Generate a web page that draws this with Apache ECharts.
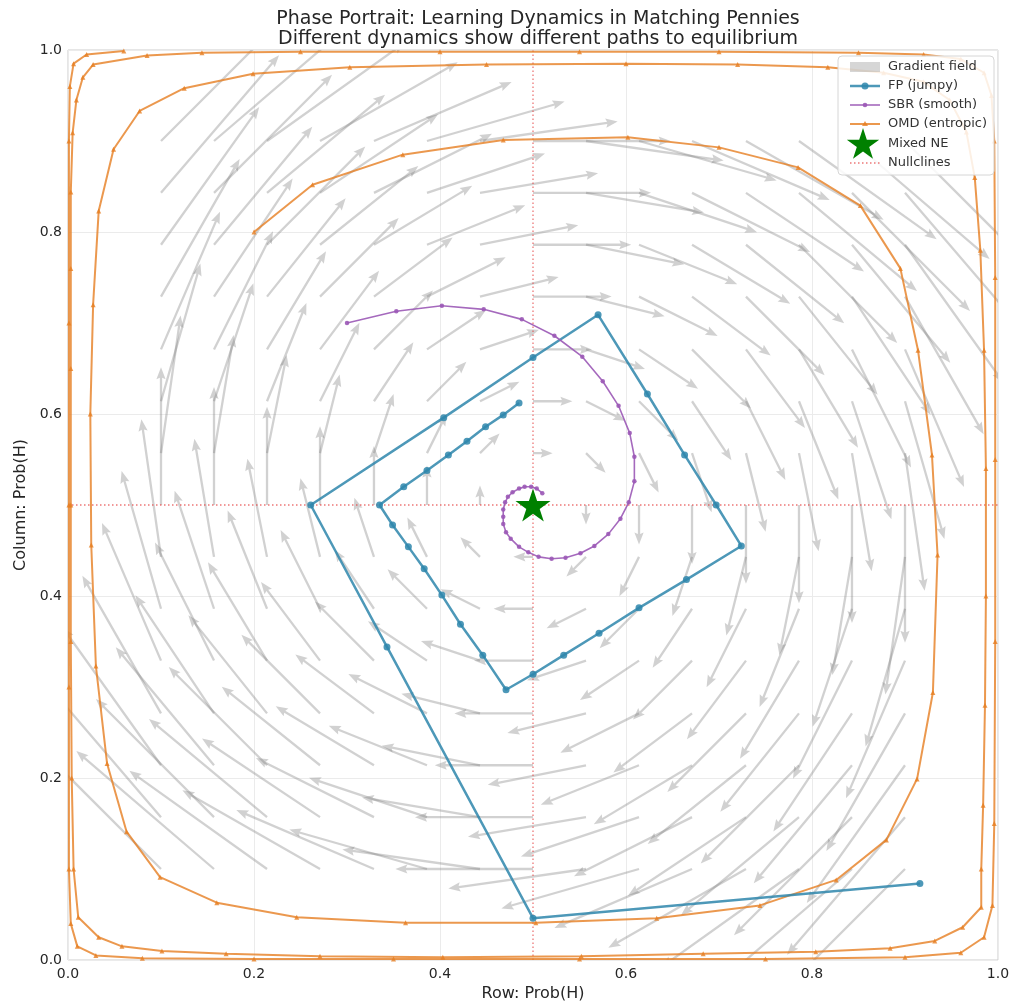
<!DOCTYPE html>
<html>
<head>
<meta charset="utf-8">
<script src="https://cdn.jsdelivr.net/npm/echarts@6/dist/echarts.min.js"></script>
<style>
  html, body { margin: 0; padding: 0; background: #fff; }
  #chart { width: 1012px; height: 1005px; }
</style>
</head>
<body>
<div id="chart"></div>
<script>
// quiver grid (15 x 15) and the field components
const gridX = [0.1, 0.157, 0.214, 0.271, 0.329, 0.386, 0.443, 0.5, 0.557, 0.614, 0.671, 0.729, 0.786, 0.843, 0.9];
const gridY = [0.1, 0.157, 0.214, 0.271, 0.329, 0.386, 0.443, 0.5, 0.557, 0.614, 0.671, 0.729, 0.786, 0.843, 0.9];
// horizontal component per row, vertical component per column
const fieldU = [-0.8, -0.686, -0.571, -0.457, -0.343, -0.229, -0.114, 0, 0.114, 0.229, 0.343, 0.457, 0.571, 0.686, 0.8];
const fieldV = [0.8, 0.686, 0.571, 0.457, 0.343, 0.229, 0.114, 0, -0.114, -0.229, -0.343, -0.457, -0.571, -0.686, -0.8];

// fictitious play
const fpPath = [
  [0.916, 0.084], [0.500, 0.046], [0.343, 0.344], [0.261, 0.500], [0.404, 0.596],
  [0.500, 0.662], [0.570, 0.709], [0.623, 0.622], [0.663, 0.555], [0.697, 0.500],
  [0.724, 0.455], [0.665, 0.418], [0.614, 0.387], [0.571, 0.359], [0.533, 0.335],
  [0.500, 0.314], [0.471, 0.297], [0.446, 0.335], [0.422, 0.369], [0.402, 0.401],
  [0.383, 0.430], [0.366, 0.454], [0.349, 0.478], [0.335, 0.500], [0.361, 0.520],
  [0.386, 0.538], [0.409, 0.555], [0.429, 0.570], [0.449, 0.586], [0.468, 0.599],
  [0.485, 0.612]
];

// smoothed best response
const sbrPath = [
  [0.300, 0.700], [0.353, 0.713], [0.402, 0.719], [0.447, 0.715], [0.488, 0.704],
  [0.523, 0.686], [0.553, 0.663], [0.575, 0.636], [0.592, 0.609], [0.604, 0.579],
  [0.609, 0.553], [0.609, 0.526], [0.603, 0.503], [0.594, 0.485], [0.581, 0.468],
  [0.566, 0.455], [0.551, 0.447], [0.535, 0.442], [0.520, 0.441], [0.506, 0.443],
  [0.495, 0.448], [0.485, 0.454], [0.476, 0.463], [0.471, 0.470], [0.468, 0.479],
  [0.468, 0.487], [0.468, 0.495], [0.470, 0.503], [0.473, 0.509], [0.478, 0.514],
  [0.485, 0.518], [0.491, 0.520], [0.498, 0.520], [0.504, 0.518], [0.510, 0.513]
];

// online mirror descent (spirals out to the boundary)
const omdPath = [
  [0.200, 0.800], [0.263, 0.852], [0.360, 0.885], [0.468, 0.901], [0.602, 0.904],
  [0.700, 0.893], [0.785, 0.871], [0.852, 0.829], [0.895, 0.760], [0.914, 0.670],
  [0.929, 0.555], [0.935, 0.445], [0.930, 0.294], [0.913, 0.199], [0.880, 0.132],
  [0.826, 0.088], [0.744, 0.060], [0.633, 0.046], [0.503, 0.041], [0.363, 0.041],
  [0.246, 0.047], [0.160, 0.063], [0.099, 0.091], [0.063, 0.141], [0.042, 0.216],
  [0.030, 0.323], [0.025, 0.456], [0.024, 0.600], [0.027, 0.720], [0.033, 0.823],
  [0.049, 0.891], [0.077, 0.933], [0.125, 0.958], [0.199, 0.974], [0.303, 0.981],
  [0.450, 0.984], [0.600, 0.985], [0.720, 0.984], [0.817, 0.981], [0.877, 0.975],
  [0.920, 0.965], [0.948, 0.945], [0.966, 0.910], [0.975, 0.860], [0.981, 0.780],
  [0.985, 0.670], [0.987, 0.540], [0.987, 0.400], [0.986, 0.280], [0.984, 0.170],
  [0.982, 0.100], [0.982, 0.058], [0.962, 0.036], [0.932, 0.021], [0.884, 0.013],
  [0.804, 0.009], [0.683, 0.007], [0.552, 0.004], [0.403, 0.003], [0.271, 0.004],
  [0.170, 0.007], [0.101, 0.010], [0.058, 0.015], [0.033, 0.025], [0.011, 0.047],
  [0.006, 0.100], [0.004, 0.200], [0.003, 0.350], [0.003, 0.500], [0.003, 0.650],
  [0.003, 0.760], [0.003, 0.844], [0.005, 0.909], [0.009, 0.945], [0.016, 0.970],
  [0.027, 0.984], [0.085, 0.994], [0.144, 0.997], [0.250, 0.998], [0.400, 0.998],
  [0.550, 0.998], [0.700, 0.998], [0.850, 0.997], [0.920, 0.995], [0.960, 0.990],
  [0.985, 0.975], [0.993, 0.950], [0.996, 0.900], [0.997, 0.750], [0.997, 0.550],
  [0.997, 0.350], [0.996, 0.150], [0.994, 0.060], [0.985, 0.025], [0.960, 0.008],
  [0.900, 0.003], [0.750, 0.001], [0.550, 0.001], [0.350, 0.001], [0.200, 0.001],
  [0.080, 0.002], [0.030, 0.005], [0.010, 0.015], [0.003, 0.040], [0.001, 0.100],
  [0.001, 0.300], [0.001, 0.500], [0.001, 0.700], [0.001, 0.900], [0.002, 0.960],
  [0.006, 0.985], [0.020, 0.995], [0.060, 0.999]
];

const mixedNE = [[0.5, 0.5]];
const nullclineRow = [[0.5, 0], [0.5, 1]];
const nullclineCol = [[0, 0.5], [1, 0.5]];

const FP_COLOR = 'rgba(46, 134, 171, 0.85)';
const SBR_COLOR = 'rgba(155, 89, 182, 0.9)';
const OMD_COLOR = 'rgba(230, 126, 34, 0.8)';
const FIELD_COLOR = 'rgba(128, 128, 128, 0.36)';
const NULL_COLOR = 'rgba(228, 60, 60, 0.7)';
const FONT = 'DejaVu Sans';
const STAR_PATH = 'path://M50,0L61.2,34.5L97.6,34.5L68.2,55.9L79.4,90.5L50,69.1L20.6,90.5L31.8,55.9L2.4,34.5L38.8,34.5Z';

const fieldData = [];
gridY.forEach((y, i) => {
  gridX.forEach((x, j) => {
    fieldData.push([x, y, fieldU[i], fieldV[j]]);
  });
});

// quiver style arrow, pivot at tail
function renderArrow(params, api) {
  const p0 = api.coord([api.value(0), api.value(1)]);
  const pxPerUnit = api.size([1, 1])[0] * 0.185;
  const dx = api.value(2) * pxPerUnit;
  const dy = -api.value(3) * pxPerUnit;
  const len = Math.hypot(dx, dy);
  if (len < 1) return null;
  const c = dx / len, s = dy / len;
  const w = 1.15;
  let hl = 12, hal = 10.5, hw = 4.6;
  if (len < hl * 1.2) {
    const k = len / (hl * 1.2);
    hl *= k; hal *= k; hw *= k;
  }
  const local = [[0, -w], [len - hal, -w], [len - hl, -hw], [len, 0], [len - hl, hw], [len - hal, w], [0, w]];
  const points = local.map(([a, b]) => [p0[0] + a * c - b * s, p0[1] + a * s + b * c]);
  return {
    type: 'polygon',
    shape: { points: points },
    style: { fill: FIELD_COLOR }
  };
}

// five point star for the legend handle
function starPoints(cx, cy, r) {
  const pts = [];
  for (let k = 0; k < 10; k++) {
    const a = -Math.PI / 2 + k * Math.PI / 5;
    const rr = k % 2 === 0 ? r : r * 0.382;
    pts.push([cx + rr * Math.cos(a), cy + rr * Math.sin(a)]);
  }
  return pts;
}

const chart = echarts.init(document.getElementById('chart'));

const legendX = 850, legendTextX = 888;
const legendRows = [67, 86, 105, 124, 144, 163];
const legendLabels = ['Gradient field', 'FP (jumpy)', 'SBR (smooth)', 'OMD (entropic)', 'Mixed NE', 'Nullclines'];

const legendGraphics = [
  {
    type: 'rect', shape: { x: 838, y: 56, width: 156, height: 119, r: 4 },
    style: { fill: 'rgba(255,255,255,0.85)', stroke: '#d6d6d6', lineWidth: 1 }, z: 100
  },
  {
    type: 'rect', shape: { x: legendX, y: legendRows[0] - 5, width: 30, height: 10 },
    style: { fill: 'rgba(128,128,128,0.32)' }, z: 101
  },
  {
    type: 'line', shape: { x1: legendX, y1: legendRows[1], x2: legendX + 30, y2: legendRows[1] },
    style: { stroke: FP_COLOR, lineWidth: 2.5 }, z: 101
  },
  {
    type: 'circle', shape: { cx: legendX + 15, cy: legendRows[1], r: 3.5 },
    style: { fill: FP_COLOR }, z: 102
  },
  {
    type: 'line', shape: { x1: legendX, y1: legendRows[2], x2: legendX + 30, y2: legendRows[2] },
    style: { stroke: SBR_COLOR, lineWidth: 1.6 }, z: 101
  },
  {
    type: 'circle', shape: { cx: legendX + 15, cy: legendRows[2], r: 2.3 },
    style: { fill: SBR_COLOR }, z: 102
  },
  {
    type: 'line', shape: { x1: legendX, y1: legendRows[3], x2: legendX + 30, y2: legendRows[3] },
    style: { stroke: OMD_COLOR, lineWidth: 2 }, z: 101
  },
  {
    type: 'polygon', shape: { points: [[legendX + 15, legendRows[3] - 3], [legendX + 18, legendRows[3] + 2], [legendX + 12, legendRows[3] + 2]] },
    style: { fill: OMD_COLOR }, z: 102
  },
  {
    type: 'polygon', shape: { points: starPoints(legendX + 13, legendRows[4] + 1, 17) },
    style: { fill: '#008000' }, z: 102
  },
  {
    type: 'line', shape: { x1: legendX, y1: legendRows[5], x2: legendX + 30, y2: legendRows[5] },
    style: { stroke: NULL_COLOR, lineWidth: 1.3, lineDash: [1.5, 2.5] }, z: 101
  }
].concat(legendLabels.map((label, i) => ({
  type: 'text', x: legendTextX, y: legendRows[i], z: 102,
  style: { text: label, fill: '#333', font: '13px "' + FONT + '"', verticalAlign: 'middle' }
})));

const nullStyle = { color: NULL_COLOR, width: 1.3, type: [1.5, 2.5] };

const option = {
  animation: false,
  backgroundColor: '#fff',
  textStyle: { fontFamily: FONT },
  title: {
    text: 'Phase Portrait: Learning Dynamics in Matching Pennies\nDifferent dynamics show different paths to equilibrium',
    left: 533,
    top: 4,
    textAlign: 'center',
    textStyle: { fontFamily: FONT, fontSize: 19, fontWeight: 'normal', color: '#262626', lineHeight: 20 }
  },
  grid: {
    left: 68, right: 14, top: 50, bottom: 45, outerBoundsMode: 'none',
    show: true, borderColor: '#cccccc', borderWidth: 1
  },
  xAxis: {
    type: 'value', min: 0, max: 1, interval: 0.2,
    name: 'Row: Prob(H)', nameLocation: 'middle', nameGap: 26,
    nameTextStyle: { fontSize: 16, color: '#262626' },
    axisLine: { show: false }, axisTick: { show: false },
    axisLabel: { fontSize: 14, color: '#262626', margin: 7, formatter: v => v.toFixed(1) },
    splitLine: { lineStyle: { color: '#ebebeb', width: 1 } }
  },
  yAxis: {
    type: 'value', min: 0, max: 1, interval: 0.2,
    name: 'Column: Prob(H)', nameLocation: 'middle', nameGap: 34,
    nameTextStyle: { fontSize: 16, color: '#262626' },
    axisLine: { show: false }, axisTick: { show: false },
    axisLabel: { fontSize: 14, color: '#262626', margin: 6, formatter: v => v.toFixed(1) },
    splitLine: { lineStyle: { color: '#ebebeb', width: 1 } }
  },
  series: [
    {
      name: 'Gradient field', type: 'custom', renderItem: renderArrow,
      data: fieldData, clip: true, silent: true, z: 1
    },
    {
      name: 'Nullclines', type: 'line', data: nullclineRow, silent: true, z: 2,
      symbol: 'none', lineStyle: nullStyle
    },
    {
      name: 'Nullclines', type: 'line', data: nullclineCol, silent: true, z: 2,
      symbol: 'none', lineStyle: nullStyle
    },
    {
      name: 'FP (jumpy)', type: 'line', data: fpPath, z: 4,
      symbol: 'circle', symbolSize: 7, showAllSymbol: true,
      lineStyle: { color: FP_COLOR, width: 2.5 }, itemStyle: { color: FP_COLOR }
    },
    {
      name: 'SBR (smooth)', type: 'line', data: sbrPath, z: 5,
      symbol: 'circle', symbolSize: 4.5, showAllSymbol: true,
      lineStyle: { color: SBR_COLOR, width: 1.6 }, itemStyle: { color: SBR_COLOR }
    },
    {
      name: 'OMD (entropic)', type: 'line', data: omdPath, z: 3,
      symbol: 'triangle', symbolSize: 5, showAllSymbol: true,
      lineStyle: { color: OMD_COLOR, width: 2 }, itemStyle: { color: OMD_COLOR }
    },
    {
      name: 'Mixed NE', type: 'scatter', data: mixedNE, z: 10,
      symbol: STAR_PATH, symbolSize: [35, 33],
      itemStyle: { color: '#008000', opacity: 1 }
    }
  ],
  graphic: legendGraphics
};

chart.setOption(option);
window.addEventListener('resize', () => chart.resize());
</script>
</body>
</html>
